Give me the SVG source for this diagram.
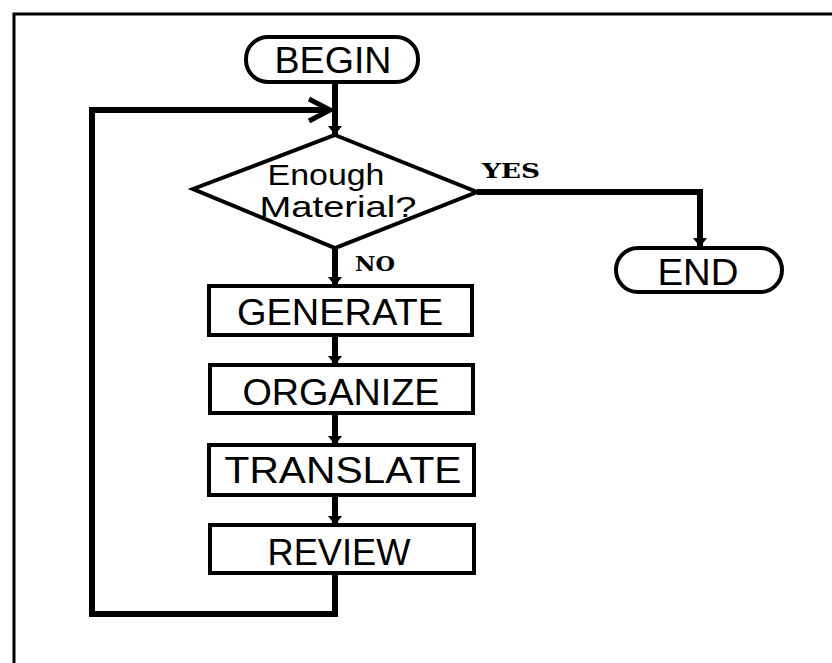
<svg xmlns="http://www.w3.org/2000/svg" width="832" height="663" viewBox="0 0 832 663">
  <defs>
    <marker id="solid" viewBox="0 0 9 14" refX="9" refY="7" markerWidth="9" markerHeight="14" markerUnits="userSpaceOnUse" orient="auto">
      <path d="M0,0 L9,7 L0,14 Z" fill="#000"/>
    </marker>
  </defs>
  <style>
    .frame { fill: none; stroke: #000; stroke-width: 3; }
    .box { fill: #fff; stroke: #000; stroke-width: 4; }
    .term { fill: #fff; stroke: #000; stroke-width: 4; }
    .wire { fill: none; stroke: #000; stroke-width: 6; stroke-linejoin: miter; }
    .label { font-family: "Liberation Sans", Arial, sans-serif; font-size: 37px; fill: #000; text-anchor: middle; }
    .q { font-family: "Liberation Sans", Arial, sans-serif; font-size: 30px; fill: #000; text-anchor: middle; }
    .tag { font-family: "DejaVu Serif", "Liberation Serif", serif; font-weight: bold; font-size: 20px; fill: #000; }
  </style>

  <rect width="832" height="663" fill="#fff"/>
  <!-- page frame -->
  <path class="frame" d="M14,663 L14,14 L832,14"/>

  <g id="connectors">
    <!-- BEGIN to decision -->
    <path class="wire" d="M335,82 L335,135" marker-end="url(#solid)"/>
    <!-- loop back from REVIEW -->
    <path class="wire" d="M335,573 L335,614 L92,614 L92,110 L329,110"/>
    <path d="M309,99 L330,110 L309,121" fill="none" stroke="#000" stroke-width="5"/>
    <!-- YES branch -->
    <path class="wire" d="M477,192 L700,192 L700,247" marker-end="url(#solid)"/>
    <!-- NO branch and process chain -->
    <path class="wire" d="M335,248 L335,286" marker-end="url(#solid)"/>
    <path class="wire" d="M335,335 L335,365" marker-end="url(#solid)"/>
    <path class="wire" d="M335,413 L335,445" marker-end="url(#solid)"/>
    <path class="wire" d="M335,495 L335,525" marker-end="url(#solid)"/>
    <text class="tag" x="355" y="271" textLength="40" lengthAdjust="spacingAndGlyphs">NO</text>
    <text class="tag" x="482" y="178" textLength="58" lengthAdjust="spacingAndGlyphs">YES</text>
  </g>

  <g id="begin">
    <rect class="term" x="246" y="37" width="172" height="45" rx="22" ry="22"/>
    <text class="label" x="333" y="73" font-size="32" textLength="117" lengthAdjust="spacingAndGlyphs">BEGIN</text>
  </g>

  <g id="decision">
    <path class="box" d="M335,135 L477,192 L335,248 L193,189 Z" stroke-width="3.5"/>
    <text class="q" x="326" y="185" textLength="117" lengthAdjust="spacingAndGlyphs">Enough</text>
    <text class="q" x="338" y="217" textLength="157" lengthAdjust="spacingAndGlyphs">Material?</text>
  </g>

  <g id="end">
    <rect class="term" x="616" y="248" width="166" height="44" rx="22" ry="22"/>
    <text class="label" x="698" y="285" textLength="81" lengthAdjust="spacingAndGlyphs">END</text>
  </g>

  <g id="generate">
    <rect class="box" x="209" y="286" width="263" height="49"/>
    <text class="label" x="340" y="325" textLength="206" lengthAdjust="spacingAndGlyphs">GENERATE</text>
  </g>

  <g id="organize">
    <rect class="box" x="210" y="365" width="263" height="48"/>
    <text class="label" x="341" y="405" textLength="197" lengthAdjust="spacingAndGlyphs">ORGANIZE</text>
  </g>

  <g id="translate">
    <rect class="box" x="209" y="445" width="265" height="50"/>
    <text class="label" x="343" y="483" textLength="237" lengthAdjust="spacingAndGlyphs">TRANSLATE</text>
  </g>

  <g id="review">
    <rect class="box" x="210" y="525" width="264" height="48"/>
    <text class="label" x="339" y="565" textLength="143" lengthAdjust="spacingAndGlyphs">REVIEW</text>
  </g>
</svg>
